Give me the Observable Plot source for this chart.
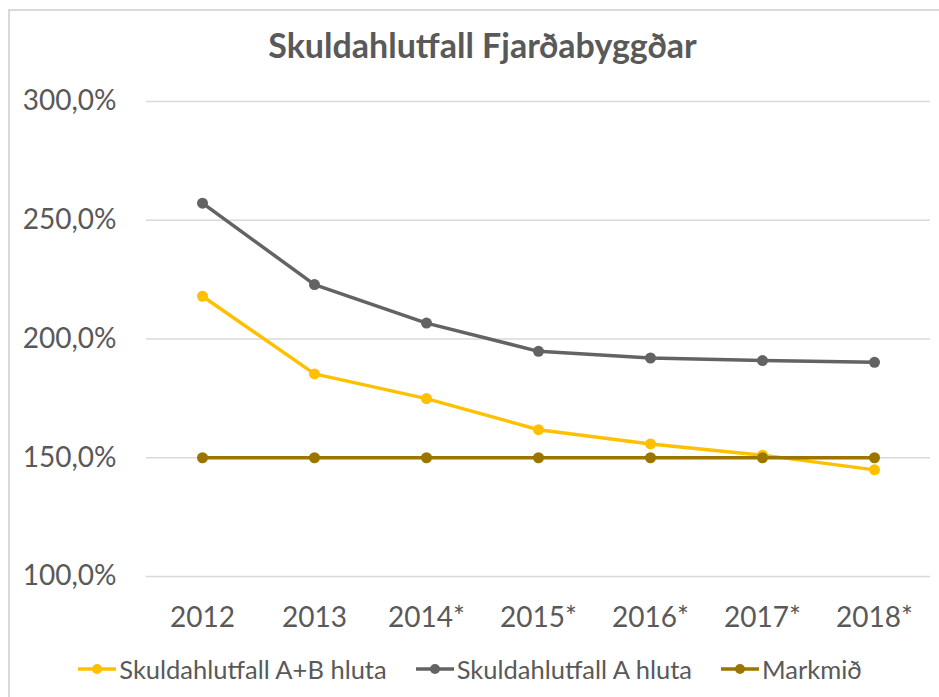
<!DOCTYPE html>
<html>
<head>
<meta charset="utf-8">
<script src="https://cdn.jsdelivr.net/npm/d3@7"></script>
<script src="https://cdn.jsdelivr.net/npm/@observablehq/plot@0.6"></script>
<style>
  html, body { margin: 0; padding: 0; background: #fff; }
  #wrap { position: relative; width: 939px; height: 697px; overflow: hidden; font-family: Lato, "Open Sans", sans-serif; }
  #frame { position: absolute; left: 8px; top: 9px; width: 960px; height: 720px; border-left: 2px solid #d9d9d9; border-top: 2px solid #d9d9d9; }
  #title { position: absolute; left: 13px; width: 939px; top: 24px; text-align: center; font-size: 34px; font-weight: bold; color: #595959; line-height: 42px; }
  #chart { position: absolute; left: 0; top: 0; }
  #legend { position: absolute; left: 0; width: 939px; top: 652px; display: flex; justify-content: center; gap: 28px; font-size: 25.5px; color: #595959; line-height: 34px; }
  .item { display: flex; align-items: center; }
  .item svg { margin-right: 2px; }
</style>
</head>
<body>
<div id="wrap">
  <div id="frame"></div>
  <div id="chart"></div>
  <div id="title">Skuldahlutfall Fjarðabyggðar</div>
  <div id="legend"></div>
</div>
<script>
const years = ["2012", "2013", "2014*", "2015*", "2016*", "2017*", "2018*"];
const seriesNames = ["Skuldahlutfall A+B hluta", "Skuldahlutfall A hluta", "Markmið"];
const valuesAB = [218.0, 185.3, 174.9, 161.8, 155.8, 151.1, 144.9];
const valuesA = [257.2, 222.9, 206.7, 194.8, 192.0, 190.9, 190.2];
const valuesTarget = [150, 150, 150, 150, 150, 150, 150];
const yTicks = [100, 150, 200, 250, 300];
const colors = ["#FFC000", "#636363", "#9C7500"];

const seriesValues = [valuesAB, valuesA, valuesTarget];
const data = [];
seriesValues.forEach((vals, si) => {
  vals.forEach((v, i) => data.push({series: seriesNames[si], year: years[i], value: v}));
});

const fmt = d => d.toFixed(1).replace(".", ",") + "%";

const plot = Plot.plot({
  width: 939,
  height: 640,
  marginTop: 101,
  marginBottom: 64,
  marginLeft: 146,
  marginRight: 9,
  style: { fontFamily: "Lato, 'Open Sans', sans-serif", background: "transparent", color: "#595959" },
  x: { type: "point", domain: years, padding: 0.5, label: null },
  y: { domain: [100, 300], label: null },
  color: { domain: seriesNames, range: colors },
  marks: [
    Plot.gridY(yTicks, { stroke: "#d9d9d9", strokeOpacity: 1, strokeWidth: 1.5 }),
    Plot.axisY(yTicks, { tickSize: 0, tickPadding: 30, tickFormat: fmt, fontSize: 28, fill: "#595959", label: null }),
    Plot.axisX({ tickSize: 0, tickPadding: 31, fontSize: 28, fill: "#595959", label: null }),
    Plot.line(data, { x: "year", y: "value", z: "series", stroke: "series", strokeWidth: 3.5 }),
    Plot.dot(data, { x: "year", y: "value", fill: "series", r: 5.5, stroke: null })
  ]
});
document.getElementById("chart").appendChild(plot);

const legend = document.getElementById("legend");
seriesNames.forEach((name, i) => {
  const item = document.createElement("div");
  item.className = "item";
  item.innerHTML = `<svg width="40" height="14"><line x1="1" x2="39" y1="7" y2="7" stroke="${colors[i]}" stroke-width="3.5"/><circle cx="20" cy="7" r="5" fill="${colors[i]}"/></svg><span>${name}</span>`;
  legend.appendChild(item);
});
</script>
</body>
</html>
